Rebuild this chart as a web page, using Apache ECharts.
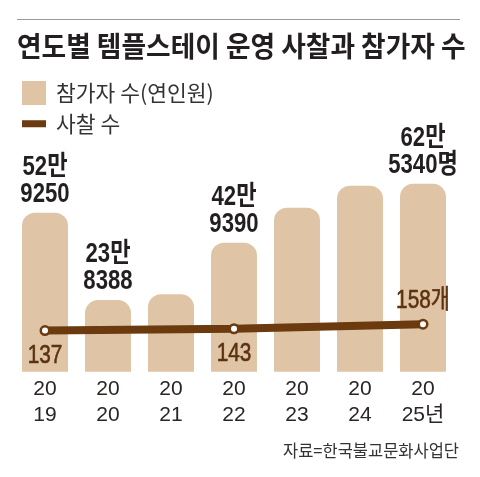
<!DOCTYPE html>
<html>
<head>
<meta charset="utf-8">
<script src="https://cdn.jsdelivr.net/npm/echarts@6/dist/echarts.min.js"></script>
<style>
  html, body { margin: 0; padding: 0; background: #fff; }
  #chart { width: 480px; height: 477px; }
</style>
</head>
<body>
<div id="chart"></div>
<script>
// 연도 (카테고리)
var years = ['2019', '2020', '2021', '2022', '2023', '2024', '2025'];
var yearLabels = ['20\n19', '20\n20', '20\n21', '20\n22', '20\n23', '20\n24', '20\n25년'];
// 참가자 수(연인원) — 2021, 2023, 2024 는 그림에서 추정
var participants = [529250, 238388, 257600, 429390, 546000, 619000, 625340];
// 사찰 수 — 표시된 해만
var temples = [137, null, null, 143, null, null, 158];
// 막대 라벨을 보여줄 해
var labeledYears = ['2019', '2020', '2022', '2025'];

var NUMF = "'Liberation Sans', 'Noto Sans CJK KR', sans-serif";
var KR = "'Noto Sans CJK KR', sans-serif";
var BROWN = '#6b3a0e';
var last = years.length - 1;

var chart = echarts.init(document.getElementById('chart'));

chart.setOption({
    animation: false,
    backgroundColor: '#fff',
    legend: {
        left: 17, top: 76,
        orient: 'vertical',
        itemWidth: 24, itemHeight: 24, itemGap: 8,
        textStyle: { fontSize: 21.5, color: '#333', fontFamily: KR, padding: [0, 0, 0, 5] },
        data: [
            { name: '참가자 수(연인원)', icon: 'rect' },
            { name: '사찰 수', icon: 'path://M0 0H24V7H0Z', itemStyle: { color: BROWN, borderWidth: 0 } }
        ]
    },
    grid: { left: 13.5, right: 25.5, top: 161.4, bottom: 105.3 },
    xAxis: {
        type: 'category',
        data: years,
        axisLine: { show: false },
        axisTick: { show: false },
        axisLabel: {
            margin: 5,
            fontSize: 21, lineHeight: 26,
            color: '#2a2422', fontFamily: NUMF,
            formatter: function (v, i) { return yearLabels[i]; }
        }
    },
    yAxis: [
        { type: 'value', min: 0, max: 700000, show: false, splitLine: { show: false } },
        { type: 'value', min: 0, max: 700, show: false, splitLine: { show: false } }
    ],
    series: [
        {
            name: '참가자 수(연인원)',
            type: 'bar',
            data: participants,
            barWidth: 46,
            itemStyle: { color: '#dfc4a5', borderRadius: [13, 13, 0, 0] }
        },
        {
            name: '사찰 수',
            type: 'line',
            yAxisIndex: 1,
            connectNulls: true,
            symbol: 'circle',
            symbolSize: 8.5,
            z: 3,
            lineStyle: { color: BROWN, width: 8 },
            itemStyle: { color: '#fff', borderColor: BROWN, borderWidth: 2.5 },
            data: temples
        }
    ]
});

// 라벨: 글꼴을 좁게 보이도록 scaleX 로 눌러서 graphic 으로 그림 (위치는 축 변환으로)
var graphics = [
    {
        type: 'line',
        shape: { x1: 17, y1: 19.5, x2: 460, y2: 19.5 },
        style: { stroke: '#9a9a9a', lineWidth: 1 }
    },
    {
        type: 'text', x: 17, y: 46, scaleX: 0.955,
        style: {
            text: '연도별 템플스테이 운영 사찰과 참가자 수',
            fontSize: 28, fontWeight: 'bold', fontFamily: KR,
            fill: '#231f20', verticalAlign: 'middle'
        }
    },
    {
        type: 'text', x: 459, y: 451, scaleX: 0.97,
        style: {
            text: '자료=한국불교문화사업단',
            fontSize: 17, fontFamily: KR,
            fill: '#333', align: 'right', verticalAlign: 'middle'
        }
    }
];

labeledYears.forEach(function (y) {
    var i = years.indexOf(y);
    var v = participants[i];
    var pt = chart.convertToPixel({ seriesIndex: 0 }, [i, v]);
    var txt = Math.floor(v / 10000) + '만\n' + (v % 10000) + (i === last ? '명' : '');
    graphics.push({
        type: 'text', x: pt[0], y: pt[1] - 5, scaleX: 0.82, z: 10,
        style: {
            text: txt,
            fontSize: 27, lineHeight: 27, fontWeight: 'bold', fontFamily: NUMF,
            fill: '#231f20', align: 'center', verticalAlign: 'bottom'
        }
    });
});

temples.forEach(function (v, i) {
    if (v === null) return;
    var pt = chart.convertToPixel({ seriesIndex: 1 }, [i, v]);
    graphics.push({
        type: 'text', x: pt[0], y: pt[1] + (i === last ? -23 : 25), scaleX: 0.8, z: 10,
        style: {
            text: v + (i === last ? '개' : ''),
            fontSize: 26, fontFamily: NUMF,
            fill: '#5a3210', stroke: '#5a3210', lineWidth: 0.6,
            align: 'center', verticalAlign: 'middle'
        }
    });
});

chart.setOption({ graphic: graphics });
</script>
</body>
</html>
